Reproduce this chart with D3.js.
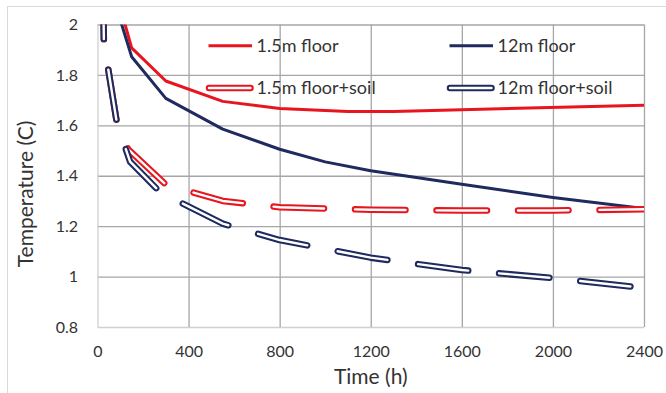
<!DOCTYPE html>
<html>
<head>
<meta charset="utf-8">
<script src="https://cdn.jsdelivr.net/npm/d3@7"></script>
<style>
  body { margin: 0; background: #fff; }
  text { font-family: Lato, "Open Sans", sans-serif; fill: #333; }
</style>
</head>
<body>
<svg id="chart"></svg>
<script>
// data
var xTicks = [0, 400, 800, 1200, 1600, 2000, 2400];
var yTicks = [0.8, 1, 1.2, 1.4, 1.6, 1.8, 2];

var floor15Time = [0, 150, 300, 550, 800, 1100, 1300, 2400];
var floor15Temp = [2.39, 1.907, 1.776, 1.695, 1.667, 1.655, 1.655, 1.68];

var floor12Time = [0, 150, 300, 550, 800, 1000, 1200, 1600, 2000, 2400];
var floor12Temp = [2.31, 1.872, 1.707, 1.585, 1.505, 1.455, 1.42, 1.366, 1.314, 1.27];

var soil15Time = [10, 28, 85, 135, 300, 550, 800, 1200, 1600, 2000, 2400];
var soil15Temp = [3.2, 1.93, 1.61, 1.505, 1.365, 1.30, 1.275, 1.265, 1.262, 1.262, 1.267];

var soil12Time = [10, 28, 85, 143, 275, 550, 800, 1200, 1600, 2000, 2400];
var soil12Temp = [3.2, 1.93, 1.61, 1.456, 1.335, 1.21, 1.145, 1.075, 1.026, 0.994, 0.955];

var seriesNames = ["1.5m floor", "12m floor", "1.5m floor+soil", "12m floor+soil"];

// 表示サイズ
var size = { width: 666, height: 393 };
var margin = { top: 24.5, right: 22, bottom: 66, left: 97.5 };
var width = size.width - margin.left - margin.right;
var height = size.height - margin.top - margin.bottom;

var red = "#e8151e";
var navy = "#1f2a5e";

var series = [
  { name: seriesNames[0], t: floor15Time, v: floor15Temp, color: red, soil: false },
  { name: seriesNames[1], t: floor12Time, v: floor12Temp, color: navy, soil: false },
  { name: seriesNames[2], t: soil15Time, v: soil15Temp, color: red, soil: true },
  { name: seriesNames[3], t: soil12Time, v: soil12Temp, color: navy, soil: true }
];

var svg = d3.select("#chart")
  .attr("width", size.width)
  .attr("height", size.height);

// outer chart border
svg.append("rect")
  .attr("x", 7.5).attr("y", 6.5)
  .attr("width", 700).attr("height", 420)
  .attr("fill", "#fff")
  .attr("stroke", "#d9d9d9");

var g = svg.append("g")
  .attr("transform", "translate(" + margin.left + "," + margin.top + ")");

var x = d3.scaleLinear().domain([0, 2400]).range([0, width]);
var y = d3.scaleLinear().domain([0.8, 2]).range([height, 0]);

// gridlines
g.append("g")
  .call(d3.axisLeft(y).tickValues(yTicks).tickSize(-width).tickFormat(""))
  .call(function(s){ s.select(".domain").remove(); })
  .selectAll("line")
  .attr("stroke", function(d){ return d === 0.8 ? "#d0d0d0" : "#a6a6a6"; })
  .attr("stroke-width", 1.3);

g.append("g")
  .attr("transform", "translate(0," + height + ")")
  .call(d3.axisBottom(x).tickValues(xTicks).tickSize(-height).tickFormat(""))
  .call(function(s){ s.select(".domain").remove(); })
  .selectAll("line")
  .attr("stroke", function(d){ return d === 0 ? "#d0d0d0" : "#a6a6a6"; })
  .attr("stroke-width", 1.3);

// tick labels
var yAxis = g.append("g")
  .call(d3.axisLeft(y).tickValues(yTicks).tickSize(0).tickPadding(19.5)
    .tickFormat(function(d){ return String(+d.toFixed(1)); }));
yAxis.select(".domain").remove();
yAxis.selectAll("text").attr("font-size", 16).attr("font-family", "Lato").attr("fill", "#333");

var xAxis = g.append("g")
  .attr("transform", "translate(0," + height + ")")
  .call(d3.axisBottom(x).tickValues(xTicks).tickSize(0).tickPadding(19)
    .tickFormat(d3.format("d")));
xAxis.select(".domain").remove();
xAxis.selectAll("text").attr("font-size", 16).attr("font-family", "Lato").attr("fill", "#333");

// axis titles
svg.append("text")
  .attr("x", margin.left + width / 2)
  .attr("y", 384)
  .attr("text-anchor", "middle")
  .attr("font-size", 21)
  .text("Time (h)");

svg.append("text")
  .attr("transform", "translate(33,194) rotate(-90)")
  .attr("text-anchor", "middle")
  .attr("font-size", 21)
  .text("Temperature (C)");

// lines
svg.append("clipPath").attr("id", "plot-clip")
  .append("rect").attr("width", width).attr("height", height);

var line = d3.line()
  .x(function(d){ return x(d[0]); })
  .y(function(d){ return y(d[1]); });

var outerW = 6.5, innerW = 2.4, dashLen = 50.5, gapLen = 31;
var period = dashLen + gapLen;

var lines = g.append("g").attr("clip-path", "url(#plot-clip)");

series.forEach(function(s){
  var pts = s.t.map(function(t, i){ return [t, s.v[i]]; });
  if (!s.soil) {
    lines.append("path")
      .attr("d", line(pts))
      .attr("fill", "none")
      .attr("stroke", s.color)
      .attr("stroke-width", 3)
      .attr("stroke-linejoin", "round");
    return;
  }
  // dash phase: a dash ends at the third point
  var tmp = lines.append("path").attr("d", line(pts.slice(0, 3)));
  var endLen = tmp.node().getTotalLength() - outerW / 2;
  tmp.remove();
  var offset = (((dashLen - endLen) % period) + period) % period;

  [[s.color, outerW], ["#fff", innerW]].forEach(function(st){
    lines.append("path")
      .attr("d", line(pts))
      .attr("fill", "none")
      .attr("stroke", st[0])
      .attr("stroke-width", st[1])
      .attr("stroke-linecap", "round")
      .attr("stroke-linejoin", "round")
      .attr("stroke-dasharray", dashLen + " " + gapLen)
      .attr("stroke-dashoffset", offset);
  });
});

// legend
var legend = g.append("g");
series.forEach(function(s, i){
  var col = i % 2, row = Math.floor(i / 2);
  var lx = 111.5 + col * 241;
  var ly = 21.2 + row * 42.3;
  var item = legend.append("g").attr("transform", "translate(" + lx + "," + ly + ")");
  if (s.soil) {
    item.append("line").attr("x1", 0).attr("x2", 41.5)
      .attr("stroke", s.color).attr("stroke-width", outerW).attr("stroke-linecap", "round");
    item.append("line").attr("x1", 0).attr("x2", 41.5)
      .attr("stroke", "#fff").attr("stroke-width", innerW).attr("stroke-linecap", "round");
  } else {
    item.append("line").attr("x1", -0.5).attr("x2", 43)
      .attr("stroke", s.color).attr("stroke-width", 3);
  }
  item.append("text")
    .attr("x", 47.5)
    .attr("dy", "0.36em")
    .attr("font-size", 18)
    .text(s.name);
});
</script>
</body>
</html>
